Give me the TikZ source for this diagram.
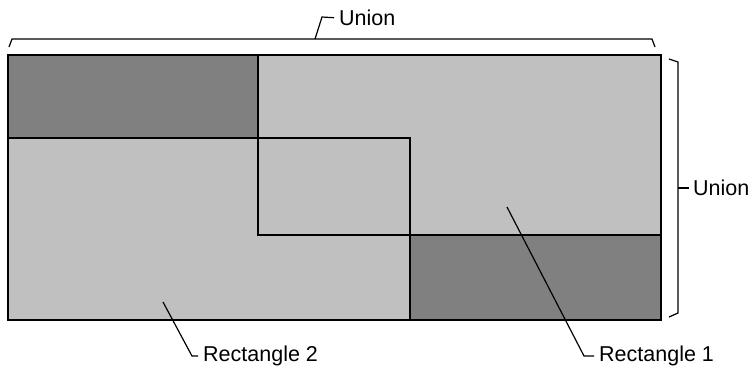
\documentclass[tikz,border=0pt]{standalone}
\usepackage{fontspec}
\setmainfont{Liberation Sans}
\definecolor{darkg}{HTML}{808080}
\definecolor{lightg}{HTML}{C0C0C0}
\begin{document}
\begin{tikzpicture}[x=1pt,y=-1pt,
  outline/.style={draw=black,line width=1.6pt},
  leader/.style={draw=black,line width=1.2pt},
  lbl/.style={anchor=west,inner sep=0pt,font=\fontsize{21.5}{25}\selectfont}]
\useasboundingbox (0,0) rectangle (751,381);
% fills
\fill[darkg] (8,55) rectangle (258,138);
\fill[lightg] (258,55) rectangle (661,235);
\fill[lightg] (8,138) rectangle (410,320);
\fill[darkg] (410,235) rectangle (661,320);
% outlines
\draw[outline] (8,55) rectangle (661,320);
\draw[outline] (258,55) rectangle (661,235);
\draw[outline] (8,138) rectangle (410,320);
% labels
\node[lbl] (utop) at (339,18) {Union};
\node[lbl] (uright) at (693,188) {Union};
\node[lbl] (r1) at (599,356) {Rectangle 1};
\node[lbl] (r2) at (203,356) {Rectangle 2};
% top brace
\coordinate (tl) at (9,47);
\coordinate (tr) at (655,47);
\coordinate (tm) at (315,39);
\draw[leader] (tl) -- (12,39) -- (652,39) -- (tr);
\draw[leader,shorten >=5pt] (tm) -- (322,17) -- (utop.west);
% right brace
\coordinate (rt) at (669,59);
\coordinate (rb) at (669,317);
\coordinate (rm) at (678,188);
\draw[leader] (rt) -- (678,62) -- (678,313) -- (rb);
\draw[leader,shorten >=4pt] (rm) -- (uright.west);
% leaders to rectangles
\coordinate (p1) at (507,207);
\coordinate (p2) at (163,302);
\draw[leader,shorten >=5pt] (p1) -- (584,356) -- (r1.west);
\draw[leader,shorten >=5pt] (p2) -- (192,356) -- (r2.west);
\end{tikzpicture}
\end{document}
